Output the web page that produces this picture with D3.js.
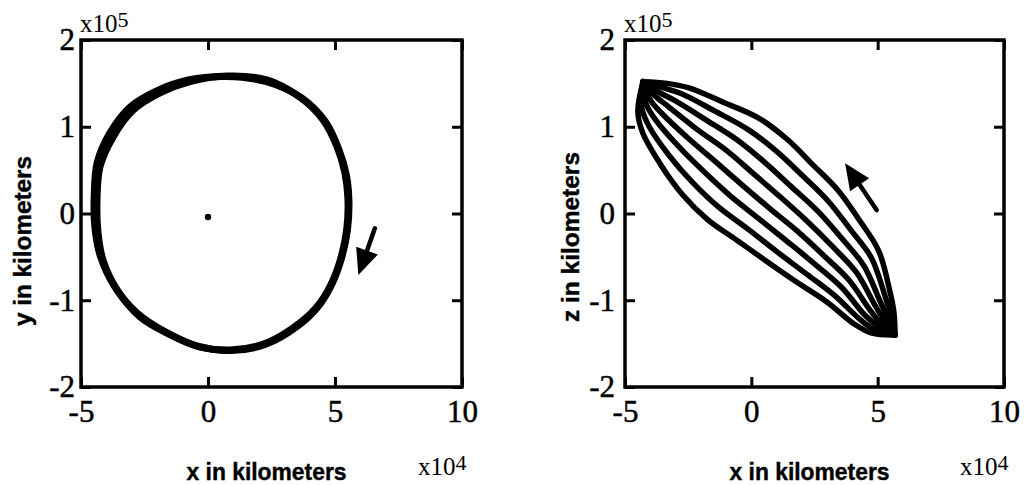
<!DOCTYPE html>
<html>
<head>
<meta charset="utf-8">
<script src="https://cdn.jsdelivr.net/npm/d3@7"></script>
<style>
  body { margin: 0; background: #fff; }
  svg { display: block; }
  .tick line { stroke: #000; stroke-width: 3; }
  .title { font-family: "Liberation Sans", Arial, sans-serif; font-weight: bold; font-size: 23px; fill: #000; stroke: #000; stroke-width: 0.4; }
  .mult { font-family: "Liberation Serif", "Times New Roman", serif; font-size: 25px; fill: #000; }
</style>
</head>
<body>
<svg id="chart" width="1030" height="485"></svg>
<script>
// Axis ticks (x in units of 1e4 km, y/z in units of 1e5 km)
const xTicks = [-5, 0, 5, 10];
const yTicks = [-2, -1, 0, 1, 2];

// Orbit projected on the x-y plane: two overlapping passes
const xyPassA = [
  [0.75, 1.585], [2.32, 1.54], [3.62, 1.34], [4.53, 1.08], [5.08, 0.77], [5.39, 0.47],
  [5.51, 0.16], [5.47, -0.16], [5.28, -0.46], [4.92, -0.77], [4.41, -1.03], [3.62, -1.26],
  [2.32, -1.49], [0.98, -1.57], [-0.31, -1.54], [-1.61, -1.38], [-2.68, -1.19], [-3.58, -0.88],
  [-4.13, -0.54], [-4.33, -0.22], [-4.37, 0.16], [-4.25, 0.54], [-3.74, 0.88], [-2.95, 1.19],
  [-1.89, 1.39], [-0.71, 1.52]
];
const xyPassB = [
  [0.70, 1.58], [2.30, 1.52], [3.70, 1.33], [4.62, 1.06], [5.15, 0.74], [5.45, 0.44],
  [5.55, 0.13], [5.49, -0.19], [5.28, -0.49], [4.90, -0.80], [4.37, -1.06], [3.56, -1.29],
  [2.25, -1.51], [0.90, -1.58], [-0.40, -1.53], [-1.70, -1.36], [-2.78, -1.15], [-3.68, -0.84],
  [-4.24, -0.49], [-4.45, -0.17], [-4.48, 0.21], [-4.36, 0.59], [-3.86, 0.93], [-3.06, 1.23],
  [-1.98, 1.42], [-0.78, 1.54]
];
const earthXY = [0, -0.04];

// Orbit projected on the x-z plane: successive sweeps between the two turning points
const xzSweep0 = [[-4.29,1.52],[-4.49,1.17],[-4.30,0.93],[-3.58,0.56],[-2.73,0.22],[-1.73,-0.07],[-0.56,-0.31],[0.60,-0.55],[1.79,-0.79],[2.99,-1.02],[4.10,-1.28],[4.77,-1.38],[5.69,-1.40]];
const xzSweep1 = [[-4.29,1.52],[-4.33,1.21],[-4.04,1.00],[-3.23,0.66],[-2.30,0.35],[-1.28,0.07],[-0.13,-0.18],[1.01,-0.44],[2.15,-0.69],[3.28,-0.94],[4.30,-1.22],[4.89,-1.34],[5.69,-1.40]];
const xzSweep2 = [[-4.29,1.52],[-4.16,1.26],[-3.79,1.08],[-2.87,0.77],[-1.87,0.48],[-0.82,0.20],[0.30,-0.06],[1.41,-0.32],[2.50,-0.58],[3.57,-0.85],[4.49,-1.17],[5.02,-1.30],[5.69,-1.40]];
const xzSweep3 = [[-4.29,1.52],[-4.00,1.31],[-3.53,1.15],[-2.51,0.87],[-1.43,0.60],[-0.37,0.33],[0.72,0.06],[1.81,-0.20],[2.85,-0.48],[3.87,-0.77],[4.69,-1.11],[5.14,-1.27],[5.69,-1.40]];
const xzSweep4 = [[-4.29,1.52],[-3.83,1.36],[-3.27,1.23],[-2.15,0.97],[-1.00,0.73],[0.08,0.46],[1.15,0.19],[2.21,-0.09],[3.21,-0.38],[4.16,-0.68],[4.88,-1.05],[5.26,-1.23],[5.69,-1.40]];
const xzSweep5 = [[-4.29,1.52],[-3.67,1.40],[-3.02,1.30],[-1.80,1.08],[-0.57,0.85],[0.53,0.59],[1.58,0.31],[2.62,0.03],[3.56,-0.28],[4.45,-0.60],[5.08,-1.00],[5.39,-1.20],[5.69,-1.40]];
const xzSweep6 = [[-4.29,1.52],[-3.51,1.45],[-2.76,1.38],[-1.44,1.18],[-0.14,0.97],[0.99,0.72],[2.01,0.44],[3.02,0.15],[3.91,-0.18],[4.75,-0.51],[5.28,-0.94],[5.51,-1.16],[5.69,-1.40]];
const xzSweep7 = [[-4.29,1.52],[-3.34,1.50],[-2.50,1.45],[-1.09,1.28],[0.29,1.10],[1.44,0.85],[2.44,0.56],[3.42,0.27],[4.26,-0.07],[5.04,-0.43],[5.47,-0.88],[5.64,-1.13],[5.69,-1.40]];

// Direction-of-motion arrows: [tail x, tail y, tip x, tip y]
const arrowXY = [6.57, -0.17, 5.92, -0.71];
const arrowXZ = [4.96, 0.04, 3.71, 0.58];

const svg = d3.select("#chart");
const tickFmt = d => String(d);   // plain hyphen-minus for negatives

function styleTickText(a) {
  a.attr("font-family", "'Liberation Serif', 'Times New Roman', serif").attr("font-size", 31);
  a.selectAll(".tick text").attr("fill", "#000").attr("stroke", "#000").attr("stroke-width", 0.5);
}

function panel(opts) {
  const x = d3.scaleLinear().domain([-5, 10]).range(opts.xRange);
  const y = d3.scaleLinear().domain([-2, 2]).range([387, 40]);
  const g = svg.append("g");
  const [x0, x1] = opts.xRange;

  // Inward ticks on all four sides, labels on bottom and left
  g.append("g").attr("transform", "translate(0,387)")
    .call(d3.axisBottom(x).tickValues(xTicks).tickSize(-10).tickPadding(13).tickFormat(tickFmt))
    .call(styleTickText)
    .call(a => a.select(".domain").remove());
  g.append("g").attr("transform", "translate(0,40)")
    .call(d3.axisTop(x).tickValues(xTicks).tickSize(-10).tickFormat(""))
    .call(a => a.select(".domain").remove());
  g.append("g").attr("transform", `translate(${x0},0)`)
    .call(d3.axisLeft(y).tickValues(yTicks).tickSize(-10).tickPadding(opts.yPad).tickFormat(tickFmt))
    .call(styleTickText)
    .call(a => a.select(".domain").remove());
  g.append("g").attr("transform", `translate(${x1},0)`)
    .call(d3.axisRight(y).tickValues(yTicks).tickSize(-10).tickFormat(""))
    .call(a => a.select(".domain").remove());

  g.append("rect")
    .attr("x", x0).attr("y", 40).attr("width", x1 - x0).attr("height", 347)
    .attr("fill", "none").attr("stroke", "#000").attr("stroke-width", 3.5);

  // Axis titles
  g.append("text").attr("class", "title")
    .attr("x", (x0 + x1) / 2 - 5).attr("y", 480).attr("text-anchor", "middle")
    .attr("textLength", 160).attr("lengthAdjust", "spacingAndGlyphs")
    .text("x in kilometers");
  g.append("text").attr("class", "title")
    .attr("transform", `translate(${opts.yTitleX},${opts.yTitleY}) rotate(-90)`)
    .attr("text-anchor", "middle")
    .attr("textLength", 170).attr("lengthAdjust", "spacingAndGlyphs")
    .text(opts.yTitle);

  // Exponent multipliers
  const m1 = g.append("text").attr("class", "mult").attr("x", x0 - 1).attr("y", 32);
  m1.append("tspan").text("x10");
  m1.append("tspan").attr("dy", -5).attr("font-size", 22).text("5");
  const m2 = g.append("text").attr("class", "mult").attr("x", x1 - 44).attr("y", 475);
  m2.append("tspan").text("x10");
  m2.append("tspan").attr("dy", -5).attr("font-size", 22).text("4");

  return { g, x, y };
}

function drawArrow(g, x, y, a) {
  const tx = x(a[0]), ty = y(a[1]), hx = x(a[2]), hy = y(a[3]);
  const dx = hx - tx, dy = hy - ty, len = Math.hypot(dx, dy);
  const ux = dx / len, uy = dy / len, headLen = 26, half = 11.5;
  const bx = hx - ux * headLen, by = hy - uy * headLen;
  g.append("line")
    .attr("x1", tx).attr("y1", ty).attr("x2", bx + ux * 3).attr("y2", by + uy * 3)
    .attr("stroke", "#000").attr("stroke-width", 4.5).attr("stroke-linecap", "round");
  g.append("polygon")
    .attr("points", [[hx, hy], [bx - uy * half, by + ux * half], [bx + uy * half, by - ux * half]].map(p => p.join(",")).join(" "))
    .attr("fill", "#000");
}

// Left panel: x-y projection
const left = panel({ xRange: [81, 462], yPad: 6, yTitle: "y in kilometers", yTitleX: 31, yTitleY: 241 });
const lineXY = d3.line().x(d => left.x(d[0])).y(d => left.y(d[1])).curve(d3.curveCatmullRomClosed);
left.g.selectAll("path.orbit").data([xyPassA, xyPassB]).join("path")
  .attr("class", "orbit").attr("d", lineXY)
  .attr("fill", "none").attr("stroke", "#000").attr("stroke-width", 7).attr("stroke-linejoin", "round");
left.g.append("circle").attr("cx", left.x(earthXY[0])).attr("cy", left.y(earthXY[1])).attr("r", 3.2).attr("fill", "#000");
drawArrow(left.g, left.x, left.y, arrowXY);

// Right panel: x-z projection
const right = panel({ xRange: [625, 1004], yPad: 10, yTitle: "z in kilometers", yTitleX: 579, yTitleY: 237 });
const lineXZ = d3.line().x(d => right.x(d[0])).y(d => right.y(d[1])).curve(d3.curveCatmullRom);
right.g.selectAll("path.sweep")
  .data([xzSweep0, xzSweep1, xzSweep2, xzSweep3, xzSweep4, xzSweep5, xzSweep6, xzSweep7])
  .join("path").attr("class", "sweep").attr("d", lineXZ)
  .attr("fill", "none").attr("stroke", "#000").attr("stroke-width", 5.5)
  .attr("stroke-linejoin", "round").attr("stroke-linecap", "round");
drawArrow(right.g, right.x, right.y, arrowXZ);
</script>
</body>
</html>
